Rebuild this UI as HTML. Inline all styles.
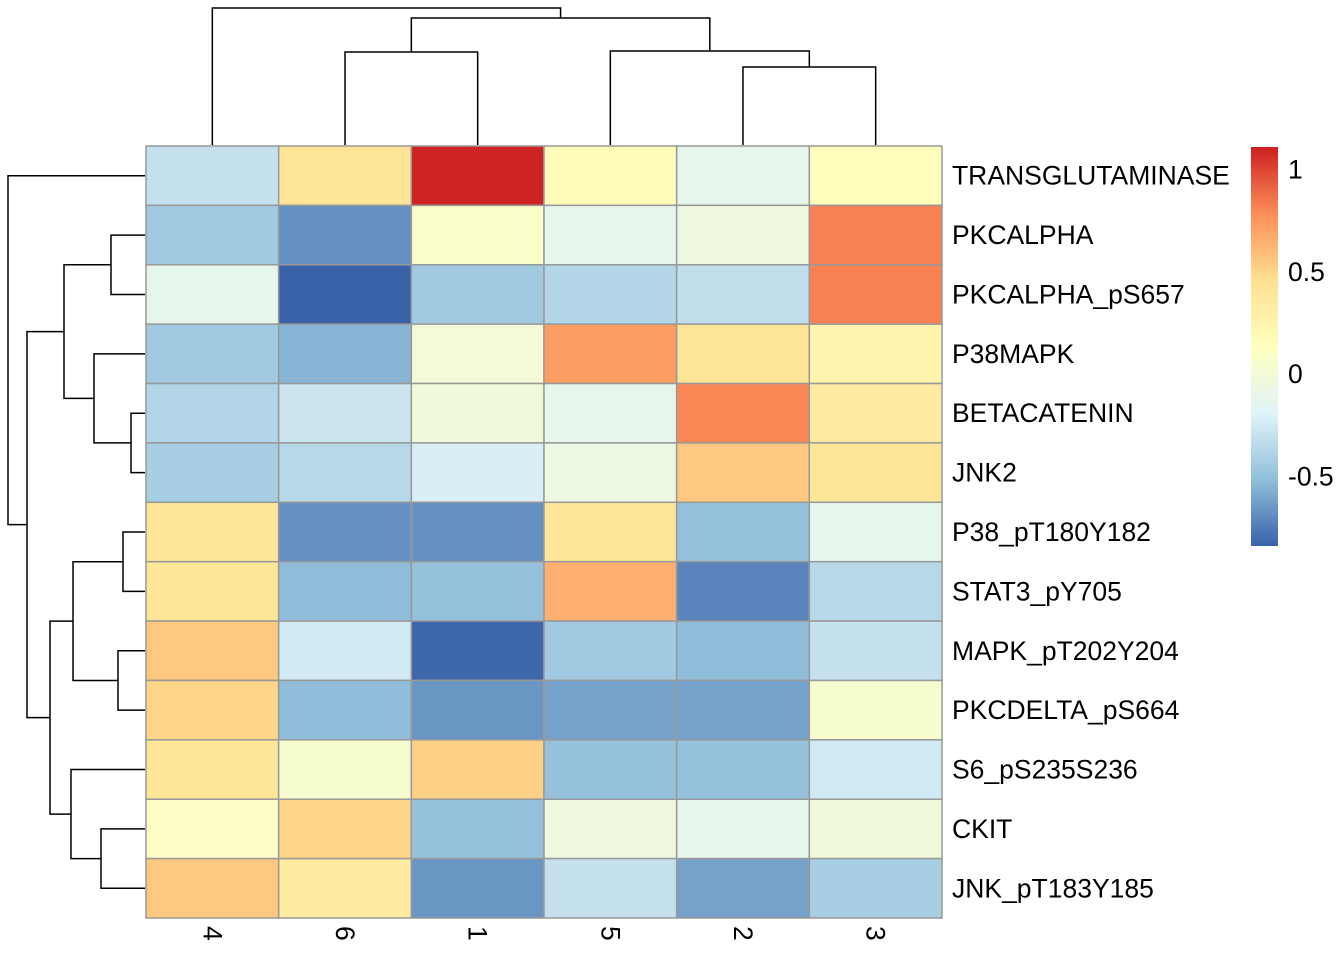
<!DOCTYPE html>
<html><head><meta charset="utf-8"><style>
body{margin:0;background:#fff;}
svg text{font-family:"Liberation Sans",Arial,sans-serif;fill:#000;}
</style></head><body>
<svg id="chart" width="1344" height="960" xmlns="http://www.w3.org/2000/svg">
<defs><linearGradient id="lg" x1="0" y1="1" x2="0" y2="0">
<stop offset="0" stop-color="#3A62A8"/><stop offset="0.1667" stop-color="#91BFDB"/><stop offset="0.3333" stop-color="#E0F3F8"/><stop offset="0.5" stop-color="#FFFFBF"/><stop offset="0.6667" stop-color="#FEE090"/><stop offset="0.8333" stop-color="#FC8D59"/><stop offset="1" stop-color="#CC2020"/></linearGradient></defs>
<g id="cells"></g>
<g id="dendro" stroke="#000" stroke-width="1.5" fill="none"></g>
<g id="labels"></g>
<g>
<rect x="1251" y="147" width="27" height="399" fill="url(#lg)"/>
</g>
</svg>
<script>
const columns=["4","6","1","5","2","3"];
const rows=["TRANSGLUTAMINASE","PKCALPHA","PKCALPHA_pS657","P38MAPK","BETACATENIN","JNK2","P38_pT180Y182","STAT3_pY705","MAPK_pT202Y204","PKCDELTA_pS664","S6_pS235S236","CKIT","JNK_pT183Y185"];
const values=[
[-0.3,0.42,1.1,0.17,-0.12,0.15],
[-0.45,-0.68,0.08,-0.12,-0.05,0.82],
[-0.12,-0.84,-0.45,-0.38,-0.32,0.82],
[-0.45,-0.55,0.0,0.72,0.42,0.25],
[-0.38,-0.28,-0.02,-0.12,0.8,0.35],
[-0.42,-0.36,-0.22,-0.06,0.55,0.4],
[0.4,-0.68,-0.68,0.4,-0.5,-0.12],
[0.4,-0.52,-0.5,0.65,-0.72,-0.36],
[0.55,-0.25,-0.82,-0.45,-0.52,-0.3],
[0.5,-0.52,-0.66,-0.62,-0.62,0.05],
[0.4,0.05,0.52,-0.5,-0.5,-0.25],
[0.1,0.5,-0.5,-0.05,-0.12,-0.02],
[0.55,0.35,-0.66,-0.3,-0.62,-0.42]];
const legendTicks=[1,0.5,0,-0.5];
const vmin=-0.84,vmax=1.11;
const anchors=["#3A62A8","#91BFDB","#E0F3F8","#FFFFBF","#FEE090","#FC8D59","#CC2020"].map(h=>[1,3,5].map(i=>parseInt(h.substr(i,2),16)));
function color(v){let t=Math.max(0,Math.min(1,(v-vmin)/(vmax-vmin)))*6;let i=Math.min(5,Math.floor(t)),f=t-i;
const c=anchors[i].map((a,k)=>Math.round(a+(anchors[i+1][k]-a)*f));return `rgb(${c})`;}
const X0=146,Y0=146,CW=(942-146)/6,RH=(918-146)/13;
const xc=i=>X0+CW*(i+0.5), yc=i=>Y0+RH*(i+0.5);
const NS="http://www.w3.org/2000/svg";
function mk(tag,attrs,parent){const e=document.createElementNS(NS,tag);for(const k in attrs)e.setAttribute(k,attrs[k]);parent.appendChild(e);return e;}
const cells=document.getElementById('cells');
values.forEach((r,i)=>r.forEach((v,j)=>{
const e=mk('rect',{x:X0+CW*j,y:Y0+RH*i,width:CW,height:RH,fill:color(v),stroke:'#999',"stroke-width":1.5},cells);


}));
const lab=document.getElementById('labels');
rows.forEach((r,i)=>{const t=mk('text',{x:952,y:yc(i)+9,"font-size":26.5},lab);t.textContent=r;

});
columns.forEach((c,j)=>{const t=mk('text',{x:0,y:0,"font-size":26.5,transform:`translate(${xc(j)-9},926) rotate(90)`},lab);t.textContent=c;

});
legendTicks.forEach(v=>{const y=546-(v-vmin)/(vmax-vmin)*399;const t=mk('text',{x:1288,y:y+9,"font-size":26.5},lab);t.textContent=String(v);

});
const d=document.getElementById('dendro');
function path(p){const e=mk('path',{d:p},d);}
function tj(xa,ya,xb,yb,h){path(`M${xa},${ya}V${h}H${xb}V${yb}`);return (xa+xb)/2;}
let x23=tj(xc(4),145,xc(5),145,67);
let x5=tj(xc(3),145,x23,67,51);
let x61=tj(xc(1),145,xc(2),145,52);
let xa=tj(x61,52,x5,51,18);
tj(xc(0),145,xa,18,8);
function lj(ya,xa,yb,xb,h){path(`M${xa},${ya}H${h}V${yb}H${xb}`);return (ya+yb)/2;}
let y12=lj(yc(1),145,yc(2),145,111);
let y45=lj(yc(4),145,yc(5),145,131);
let y3=lj(yc(3),145,y45,131,94);
let yA=lj(y12,111,y3,94,64);
let y67=lj(yc(6),145,yc(7),145,123);
let y89=lj(yc(8),145,yc(9),145,118);
let yB=lj(y67,123,y89,118,73);
let y1112=lj(yc(11),145,yc(12),145,101);
let yC=lj(yc(10),145,y1112,101,71);
let yD=lj(yB,73,yC,71,50);
let yE=lj(yA,64,yD,50,27);
lj(yc(0),145,yE,27,8);
</script>
</body></html>
